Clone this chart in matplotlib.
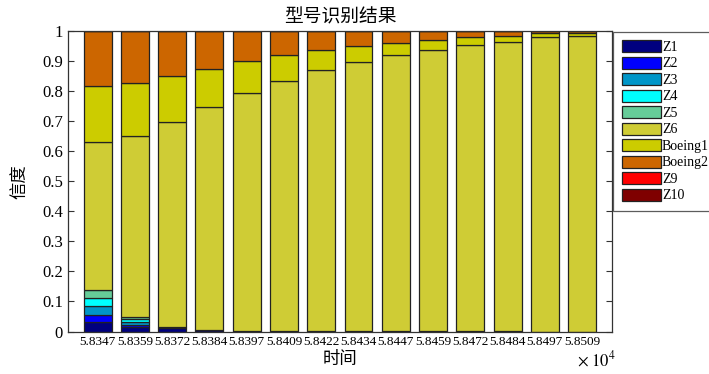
import numpy as np
import matplotlib
matplotlib.use("Agg")
import matplotlib.pyplot as plt
from matplotlib.patches import Patch

# Observation times (x10^4 shown on the axis)
times = [58347, 58359, 58372, 58384, 58397, 58409, 58422,
         58434, 58447, 58459, 58472, 58484, 58497, 58509]

classes = ["Z1", "Z2", "Z3", "Z4", "Z5", "Z6", "Boeing1", "Boeing2", "Z9", "Z10"]

# Belief assigned to each type at every time step
z1 = [0.032, 0.015, 0.012, 0.004, 0.002, 0.002, 0.001, 0.001, 0.001, 0.001, 0.001, 0.001, 0.0, 0.0]
z2 = [0.022, 0.008, 0.003, 0.0, 0.0, 0.0, 0.0, 0.0, 0.0, 0.0, 0.0, 0.0, 0.0, 0.0]
z3 = [0.030, 0.009, 0.0, 0.0, 0.0, 0.0, 0.0, 0.0, 0.0, 0.0, 0.0, 0.0, 0.0, 0.0]
z4 = [0.026, 0.008, 0.0, 0.0, 0.0, 0.0, 0.0, 0.0, 0.0, 0.0, 0.0, 0.0, 0.0, 0.0]
z5 = [0.027, 0.008, 0.0, 0.0, 0.0, 0.0, 0.0, 0.0, 0.0, 0.0, 0.0, 0.0, 0.0, 0.0]
z6 = [0.493, 0.602, 0.682, 0.743, 0.792, 0.832, 0.868, 0.896, 0.919, 0.936, 0.951, 0.962, 0.981, 0.983]
boeing1 = [0.187, 0.177, 0.152, 0.128, 0.105, 0.087, 0.068, 0.052, 0.040, 0.033, 0.027, 0.022, 0.012, 0.010]
boeing2 = [0.183, 0.173, 0.151, 0.125, 0.101, 0.079, 0.063, 0.051, 0.040, 0.030, 0.021, 0.015, 0.007, 0.007]
z9 = [0.0] * 14
z10 = [0.0] * 14

series = [z1, z2, z3, z4, z5, z6, boeing1, boeing2, z9, z10]
colors = ["#00007F", "#0000FF", "#0096C8", "#00FFFF", "#66CC99",
          "#CFCC35", "#CCCC00", "#CC6600", "#FF0000", "#7F0000"]

serif = ["Liberation Serif", "DejaVu Serif"]
cjk = ["Noto Sans CJK SC", "DejaVu Sans"]

fig = plt.figure(figsize=(7.09, 3.74), dpi=100)
ax = fig.add_axes([0.0966, 0.1136, 0.7665, 0.8034])

x = np.arange(len(times))
bottom = np.zeros(len(times))
for vals, col in zip(series, colors):
    v = np.array(vals)
    ax.bar(x, v, width=0.75, bottom=bottom, color=col,
           edgecolor="#222222", linewidth=0.9, zorder=2)
    bottom += v

ax.set_xlim(-0.78, len(times) - 1 + 0.8)
ax.set_ylim(0, 1)
ax.set_xticks(x)
ax.set_xticklabels([f"{t / 1e4:.4f}" for t in times], fontfamily=serif, fontsize=9.5)
ax.set_yticks(np.arange(0, 1.01, 0.1))
ax.set_yticklabels(["0", "0.1", "0.2", "0.3", "0.4", "0.5", "0.6", "0.7", "0.8", "0.9", "1"],
                   fontfamily=serif, fontsize=12)
ax.tick_params(direction="in", length=4, width=0.8, color="#333333",
               top=True, right=True, pad=4)
ax.tick_params(axis="x", length=0, pad=3)
for s in ax.spines.values():
    s.set_color("#333333")
    s.set_linewidth(0.9)

ax.set_title("型号识别结果", fontfamily=cjk, fontsize=13.5, pad=6)
ax.set_xlabel("时间", fontfamily=cjk, fontsize=12.5, labelpad=2)
ax.set_ylabel("信度", fontfamily=cjk, fontsize=12.5, labelpad=10)
fig.text(0.814, 0.021, r"$\times\ 10^{4}$", fontsize=12,
         math_fontfamily="stix", ha="left", va="baseline")

handles = [Patch(facecolor=c, edgecolor="#222222", linewidth=0.9) for c in colors]
leg = fig.legend(handles, classes, loc="upper left", bbox_to_anchor=(0.865, 0.915),
                 prop={"family": serif, "size": 10}, frameon=True, fancybox=False,
                 handlelength=2.8, handleheight=0.94, handletextpad=0.1,
                 labelspacing=0.2, borderpad=0.6, borderaxespad=0)
leg.get_frame().set_edgecolor("#333333")
leg.get_frame().set_linewidth(0.9)

fig.savefig("out.png", dpi=100)
